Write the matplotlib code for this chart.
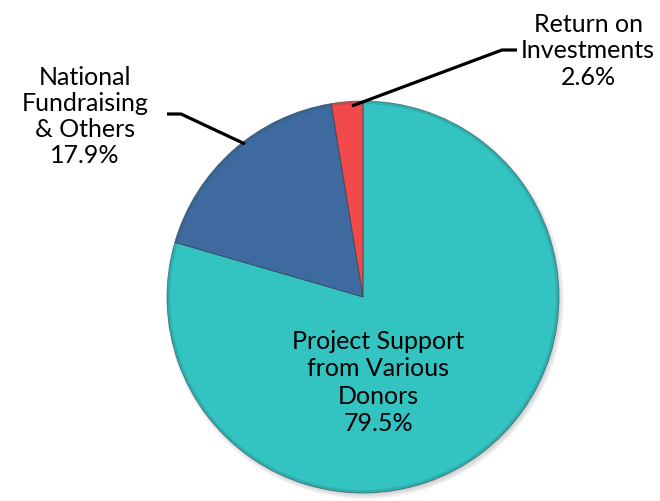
import numpy as np
import matplotlib
matplotlib.use("Agg")
import matplotlib.pyplot as plt
from matplotlib.patches import Wedge, Circle

labels = ["Project Support\nfrom Various\nDonors", "National\nFundraising\n& Others", "Return on\nInvestments"]
shares = [79.5, 17.9, 2.6]
colors = ["#33C4C1", "#3F6A9F", "#F24A4A"]

plt.rcParams['font.family'] = ['Lato', 'DejaVu Sans']

W, H = 660, 502
fig = plt.figure(figsize=(W / 100, H / 100), dpi=100)
ax = fig.add_axes([0, 0, 1, 1])

cx, cy, r = 363, H - 298, 196

# drop shadow under the pie
for k in range(6):
    ax.add_patch(Circle((cx + 2, cy - 3), r + 3 - k, facecolor='#606060',
                        alpha=0.05, edgecolor='none', zorder=0))

wedges, _ = ax.pie(shares, colors=colors, startangle=90, counterclock=False,
                   center=(cx, cy), radius=r, frame=True,
                   wedgeprops=dict(edgecolor='none', linewidth=0))
ax.set_xlim(0, W)
ax.set_ylim(0, H)
ax.set_aspect('equal')
ax.axis('off')

# bevel: darker rim and thin slice outlines
for w in wedges:
    ax.add_patch(Wedge((cx, cy), r, w.theta1, w.theta2, width=3,
                       facecolor='#1d4a55', alpha=0.18, edgecolor='none', zorder=3))
    ax.add_patch(Wedge((cx, cy), r, w.theta1, w.theta2, facecolor='none',
                       edgecolor='#27404f', linewidth=0.6, alpha=0.6, zorder=4))


def block(x, y0, text, step=26.5):
    # one text line per baseline, centred on x
    for i, line in enumerate(text.split("\n")):
        ax.text(x, H - (y0 + i * step), line, ha='center', va='baseline',
                fontsize=18, color='black', zorder=5)


block(378, 349, f"{labels[0]}\n{shares[0]}%", step=27.3)
block(85, 85, f"{labels[1]}\n{shares[1]}%", step=26)
block(588, 32, f"{labels[2]}\n{shares[2]}%", step=26.5)

# leader lines
ax.plot([245, 181, 167], [H - 145, H - 115, H - 115], color='black', lw=2.3,
        solid_capstyle='butt', zorder=6)
ax.plot([352, 502, 517], [H - 107, H - 51, H - 51], color='black', lw=2.3,
        solid_capstyle='butt', zorder=6)

fig.savefig("out.png", dpi=100)
